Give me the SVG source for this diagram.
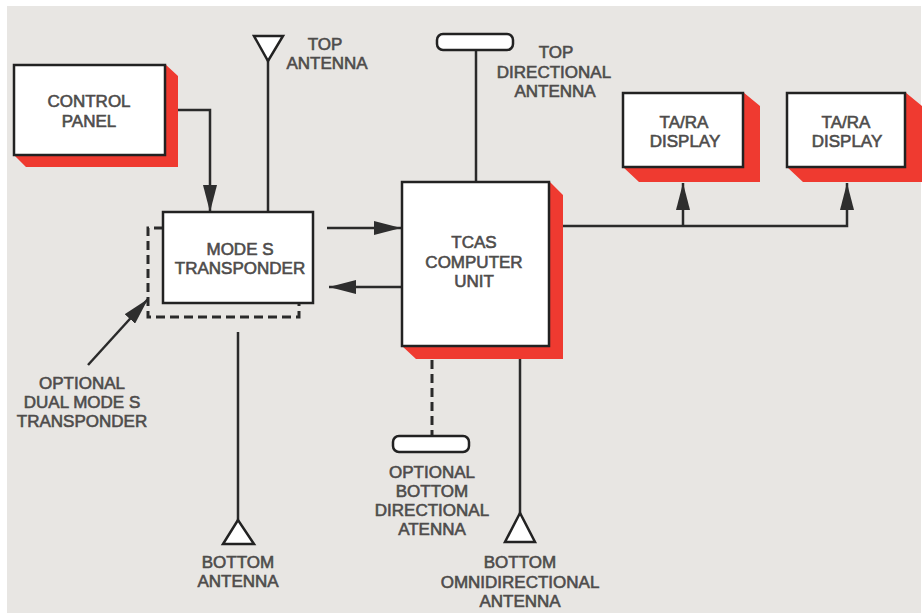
<svg xmlns="http://www.w3.org/2000/svg" width="923" height="613" viewBox="0 0 923 613">
<style>
.box{fill:#ffffff;stroke:#222;stroke-width:2.5}
.sh{fill:#ef3a30}
.t{font-family:"Liberation Sans",Arial,sans-serif;font-size:17px;fill:#4e4c4b;stroke:#4e4c4b;stroke-width:0.6;text-anchor:middle}
.ln{fill:none;stroke:#2a2a2a;stroke-width:2.5}
.dash{fill:none;stroke:#2a2a2a;stroke-width:3;stroke-dasharray:9 5}
.ant{fill:#ffffff;stroke:#222;stroke-width:2.5}
</style>
<defs>
<marker id="ah" viewBox="0 0 27 14" refX="27" refY="7" markerWidth="27" markerHeight="14" markerUnits="userSpaceOnUse" orient="auto">
<path d="M0,0 L27,7 L0,14 Z" fill="#2e2e2e"/>
</marker>
</defs>
<rect x="0" y="0" width="923" height="613" fill="#ffffff"/>
<rect x="7" y="6" width="914" height="607" fill="#e8e6e3"/>

<g id="connectors">
<path class="ln" d="M178,110 H210 V212" marker-end="url(#ah)"/>
<path class="ln" d="M268,60 V212"/>
<path class="ln" d="M327,228 H401" marker-end="url(#ah)"/>
<path class="ln" d="M401,287 H329" marker-end="url(#ah)"/>
<path class="ln" d="M476,50 V182"/>
<path class="ln" d="M563,226 H847 V183" marker-end="url(#ah)"/>
<path class="ln" d="M683,226 V183" marker-end="url(#ah)"/>
<path class="ln" d="M238,332 V522"/>
<path class="dash" d="M432,360 V436"/>
<path class="ln" d="M520,359 V515"/>
<path class="ln" d="M88,365 L148,299" marker-end="url(#ah)"/>
</g>

<g id="control-panel">
<polygon class="sh" points="165,64 178,76 178,167 26,167 14,155 165,155"/>
<rect class="box" x="14" y="65" width="151" height="90"/>
<text class="t" x="89" y="107">CONTROL</text>
<text class="t" x="89" y="127">PANEL</text>
</g>

<g id="top-antenna">
<polygon class="ant" points="254,36 283,36 268,61"/>
<text class="t" x="325" y="50">TOP</text>
<text class="t" x="327" y="69">ANTENNA</text>
</g>

<g id="dual-transponder">
<path class="dash" d="M163,228 H148 V317 H299 V303"/>
<text class="t" x="82" y="389">OPTIONAL</text>
<text class="t" x="82" y="408">DUAL MODE S</text>
<text class="t" x="82" y="427">TRANSPONDER</text>
</g>

<g id="mode-s-transponder">
<rect class="box" x="163" y="212" width="150" height="91"/>
<text class="t" x="240" y="255">MODE S</text>
<text class="t" x="240" y="274">TRANSPONDER</text>
</g>

<g id="top-directional-antenna">
<rect class="ant" x="437" y="34" width="76" height="16" rx="6"/>
<text class="t" x="556" y="58">TOP</text>
<text class="t" x="554" y="78">DIRECTIONAL</text>
<text class="t" x="555" y="97">ANTENNA</text>
</g>

<g id="tcas-computer-unit">
<polygon class="sh" points="549,181 563,195 563,359 416,359 402,346 549,346"/>
<rect class="box" x="402" y="182" width="147" height="164"/>
<text class="t" x="474" y="248">TCAS</text>
<text class="t" x="474" y="268">COMPUTER</text>
<text class="t" x="474" y="287">UNIT</text>
</g>

<g id="ta-ra-display-1">
<polygon class="sh" points="743,92 760,106 760,182 639,182 623,167 743,167"/>
<rect class="box" x="623" y="93" width="120" height="74"/>
<text class="t" x="684" y="128">TA/RA</text>
<text class="t" x="685" y="147">DISPLAY</text>
</g>

<g id="ta-ra-display-2">
<polygon class="sh" points="905,92 922,106 922,182 803,182 787,167 905,167"/>
<rect class="box" x="787" y="93" width="118" height="74"/>
<text class="t" x="846" y="128">TA/RA</text>
<text class="t" x="847" y="147">DISPLAY</text>
</g>

<g id="bottom-antenna">
<polygon class="ant" points="238,520 223,544 254,544"/>
<text class="t" x="238" y="568">BOTTOM</text>
<text class="t" x="238" y="587">ANTENNA</text>
</g>

<g id="optional-bottom-directional-antenna">
<rect class="ant" x="393" y="436" width="76" height="16" rx="6"/>
<text class="t" x="432" y="478">OPTIONAL</text>
<text class="t" x="432" y="497">BOTTOM</text>
<text class="t" x="432" y="516">DIRECTIONAL</text>
<text class="t" x="432" y="535">ATENNA</text>
</g>

<g id="bottom-omnidirectional-antenna">
<polygon class="ant" points="520,513 505,542 535,542"/>
<text class="t" x="520" y="568">BOTTOM</text>
<text class="t" x="520" y="588">OMNIDIRECTIONAL</text>
<text class="t" x="520" y="607">ANTENNA</text>
</g>
</svg>
